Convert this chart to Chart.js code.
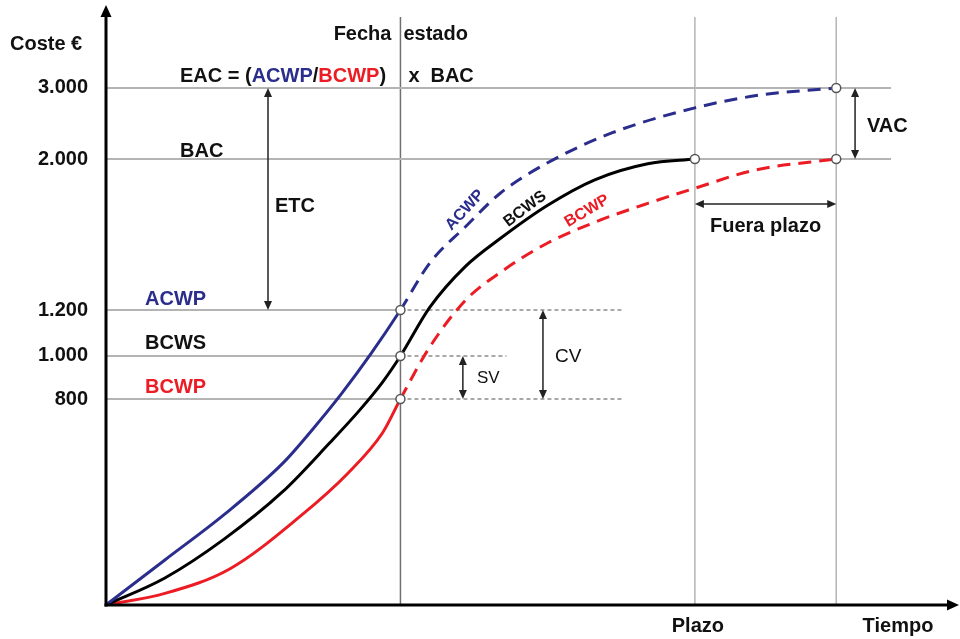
<!DOCTYPE html>
<html lang="es">
<head>
<meta charset="utf-8">
<title>Valor ganado: ACWP, BCWS, BCWP</title>
<script src="https://cdn.jsdelivr.net/npm/chart.js@4.4.1/dist/chart.umd.min.js"></script>
<style>
  html, body { margin: 0; padding: 0; background: #fff; }
  canvas { display: block; }
</style>
</head>
<body>
<canvas id="evm" width="960" height="639"></canvas>
<script>
// Calendar milestones (months)
const statusDate = 5;      // Fecha estado
const deadline = 10;       // Plazo
const finishDate = 12.4;   // actual finish, out of schedule

// Cost levels (€)
const EAC = 3000;
const BAC = 2000;
const acwpNow = 1200;
const bcwsNow = 1000;
const bcwpNow = 800;
const costTicks = [800, 1000, 1200, 2000, 3000];

// ACWP – actual cost of work performed
const acwpTime = [0, 1.0, 2.0, 3.0, 3.5, 4.0, 4.5, 5.0, 5.5, 6.1, 6.7, 7.5, 8.6, 10.0, 11.1, 12.4];
const acwpCost = [0, 175, 350, 550, 680, 825, 1010, 1200, 1450, 1640, 1820, 1980, 2370, 2720, 2900, 3000];

// BCWS – budgeted cost of work scheduled
const bcwsTime = [0, 1.0, 2.0, 3.0, 3.8, 4.3, 4.7, 5.0, 5.5, 6.1, 6.7, 7.5, 8.3, 9.2, 10.0];
const bcwsCost = [0, 105, 255, 440, 630, 755, 880, 1000, 1215, 1430, 1580, 1755, 1890, 1975, 2000];

// BCWP – budgeted cost of work performed
const bcwpTime = [0, 1.0, 2.1, 3.3, 4.1, 4.7, 5.0, 5.5, 6.1, 6.7, 7.5, 8.3, 9.2, 10.0, 11.0, 12.4];
const bcwpCost = [0, 45, 140, 345, 510, 670, 800, 1040, 1250, 1400, 1555, 1665, 1765, 1845, 1940, 2000];

const BLUE = '#2a2d8c';
const RED = '#ec1c24';
const GRID = '#b4b4b4';
const FONT = "'Liberation Sans', Arial, sans-serif";

// Stretched cost axis: value -> fraction of the axis height
const axisStops = [[0, 0], [800, 0.3503], [1000, 0.4235], [1200, 0.5017],
                   [2000, 0.7585], [3000, 0.8793], [4000, 1]];

class StretchedScale extends Chart.LinearScale {
  toDecimal(v) {
    const s = axisStops;
    for (let i = 1; i < s.length; i++) {
      if (v <= s[i][0] || i === s.length - 1) {
        const [v0, d0] = s[i - 1], [v1, d1] = s[i];
        return d0 + (v - v0) / (v1 - v0) * (d1 - d0);
      }
    }
    return 0;
  }
  getPixelForValue(v) {
    return v === null || v === undefined ? NaN : this.getPixelForDecimal(this.toDecimal(v));
  }
  getValueForPixel(p) {
    const d = this.getDecimalForPixel(p), s = axisStops;
    for (let i = 1; i < s.length; i++) {
      if (d <= s[i][1] || i === s.length - 1) {
        const [v0, d0] = s[i - 1], [v1, d1] = s[i];
        return v0 + (d - d0) / (d1 - d0) * (v1 - v0);
      }
    }
    return 0;
  }
}
StretchedScale.id = 'stretched';
StretchedScale.defaults = Chart.LinearScale.defaults;
Chart.register(StretchedScale);

const pts = (ts, vs) => ts.map((t, i) => ({ x: t, y: vs[i] }));
const seg = (x0, x1, v0, v1) => [{ x: x0, y: v0 }, { x: x1, y: v1 }];
const dashedAfterStatus = { borderDash: c => c.p0.parsed.x >= statusDate - 1e-9 ? [13, 8] : undefined };

const refLine = (data, color, width, dash) => ({
  data, borderColor: color, borderWidth: width, borderDash: dash || [],
  pointRadius: 0, tension: 0, order: 10
});

const fmt = v => v >= 1000 ? Math.floor(v / 1000) + '.' + String(v % 1000).padStart(3, '0') : String(v);

const datasets = [
  { label: 'marks', data: [
      { x: statusDate, y: acwpNow }, { x: statusDate, y: bcwsNow }, { x: statusDate, y: bcwpNow },
      { x: deadline, y: BAC }, { x: finishDate, y: EAC }, { x: finishDate, y: BAC }],
    showLine: false, pointRadius: 4.5, pointBackgroundColor: '#fff',
    pointBorderColor: '#555', pointBorderWidth: 1.5, order: -1 },
  { label: 'ACWP', data: pts(acwpTime, acwpCost), borderColor: BLUE, borderWidth: 3,
    cubicInterpolationMode: 'monotone', segment: dashedAfterStatus, order: 1 },
  { label: 'BCWS', data: pts(bcwsTime, bcwsCost), borderColor: '#000', borderWidth: 3,
    cubicInterpolationMode: 'monotone', order: 1 },
  { label: 'BCWP', data: pts(bcwpTime, bcwpCost), borderColor: RED, borderWidth: 3,
    cubicInterpolationMode: 'monotone', segment: dashedAfterStatus, order: 1 },
  // reference lines
  refLine(seg(0, 13.33, EAC, EAC), GRID, 2),
  refLine(seg(0, 13.33, BAC, BAC), GRID, 2),
  refLine(seg(0, statusDate, acwpNow, acwpNow), GRID, 2),
  refLine(seg(0, statusDate, bcwsNow, bcwsNow), GRID, 2),
  refLine(seg(0, statusDate, bcwpNow, bcwpNow), GRID, 2),
  refLine(seg(statusDate, 8.8, acwpNow, acwpNow), '#8c8c8c', 1.5, [4, 3]),
  refLine(seg(statusDate, 6.8, bcwsNow, bcwsNow), '#8c8c8c', 1.5, [4, 3]),
  refLine(seg(statusDate, 8.8, bcwpNow, bcwpNow), '#8c8c8c', 1.5, [4, 3]),
  refLine(seg(statusDate, statusDate, 0, 4000), '#707070', 1.5),
  refLine(seg(deadline, deadline, 0, 4000), GRID, 1.5),
  refLine(seg(finishDate, finishDate, 0, 4000), GRID, 1.5)
];

function head(ctx, x, y, dx, dy, len, half) {
  const bx = x - dx * len, by = y - dy * len;
  ctx.beginPath();
  ctx.moveTo(x, y);
  ctx.lineTo(bx - dy * half, by + dx * half);
  ctx.lineTo(bx + dy * half, by - dx * half);
  ctx.closePath();
  ctx.fill();
}

function dimArrow(ctx, x1, y1, x2, y2) {
  const L = Math.hypot(x2 - x1, y2 - y1), dx = (x2 - x1) / L, dy = (y2 - y1) / L;
  ctx.beginPath();
  ctx.moveTo(x1 + dx * 6, y1 + dy * 6);
  ctx.lineTo(x2 - dx * 6, y2 - dy * 6);
  ctx.stroke();
  head(ctx, x2, y2, dx, dy, 9, 4);
  head(ctx, x1, y1, -dx, -dy, 9, 4);
}

function text(ctx, s, x, y, size, color, align, weight, angle) {
  ctx.save();
  ctx.font = (weight || 'bold') + ' ' + size + 'px ' + FONT;
  ctx.fillStyle = color;
  ctx.textAlign = align || 'left';
  ctx.textBaseline = angle !== undefined ? 'middle' : 'alphabetic';
  ctx.translate(x, y);
  if (angle !== undefined) ctx.rotate(angle * Math.PI / 180);
  ctx.fillText(s, 0, 0);
  ctx.restore();
}

const annotate = {
  id: 'annotate',
  afterDatasetsDraw(chart) {
    const { ctx, chartArea: a, scales: { x, y } } = chart;
    const X = t => x.getPixelForValue(t), Y = v => y.getPixelForValue(v);
    ctx.save();

    // axes with arrowheads
    ctx.strokeStyle = '#000';
    ctx.fillStyle = '#000';
    ctx.lineWidth = 3;
    ctx.beginPath();
    ctx.moveTo(a.left, a.bottom + 1.5);
    ctx.lineTo(a.left, 14);
    ctx.stroke();
    head(ctx, a.left, 5, 0, -1, 12, 5.5);
    ctx.beginPath();
    ctx.moveTo(a.left - 1.5, a.bottom);
    ctx.lineTo(950, a.bottom);
    ctx.stroke();
    head(ctx, 959, a.bottom, 1, 0, 12, 5.5);

    // dimension arrows
    ctx.strokeStyle = '#222';
    ctx.fillStyle = '#222';
    ctx.lineWidth = 1.5;
    dimArrow(ctx, a.left + 162, Y(EAC), a.left + 162, Y(acwpNow));       // ETC
    dimArrow(ctx, X(6.06), Y(bcwsNow), X(6.06), Y(bcwpNow));              // SV
    dimArrow(ctx, X(7.42), Y(acwpNow), X(7.42), Y(bcwpNow));              // CV
    dimArrow(ctx, X(12.72), Y(EAC), X(12.72), Y(BAC));                    // VAC
    dimArrow(ctx, X(deadline), Y(BAC) + 45, X(finishDate), Y(BAC) + 45);  // Fuera plazo
    ctx.restore();

    // labels
    text(ctx, 'Coste €', 10, 50, 20, '#111');
    text(ctx, 'Fecha', X(statusDate) - 9, 40, 20, '#111', 'right');
    text(ctx, 'estado', X(statusDate) + 3, 40, 20, '#111', 'left');

    // EAC = (ACWP/BCWP) x BAC
    ctx.save();
    ctx.font = 'bold 20px ' + FONT;
    let cx = 180;
    [['EAC = (', '#111'], ['ACWP', BLUE], ['/', '#111'], ['BCWP', RED], [')', '#111']].forEach(([s, c]) => {
      ctx.fillStyle = c;
      ctx.fillText(s, cx, 82);
      cx += ctx.measureText(s).width;
    });
    ctx.restore();
    text(ctx, 'x', X(statusDate) + 8, 82, 20, '#111');
    text(ctx, 'BAC', X(statusDate) + 30, 82, 20, '#111');

    text(ctx, 'BAC', 180, 157, 20, '#111');
    text(ctx, 'ETC', 275, 212, 20, '#111');
    text(ctx, 'ACWP', 145, 305, 20, BLUE);
    text(ctx, 'BCWS', 145, 349, 20, '#111');
    text(ctx, 'BCWP', 145, 393, 20, RED);
    text(ctx, 'SV', 477, 383, 17, '#111', 'left', 'normal');
    text(ctx, 'CV', 555, 362, 19, '#111', 'left', 'normal');
    text(ctx, 'VAC', 867, 132, 20, '#111');
    text(ctx, 'Fuera plazo', (X(deadline) + X(finishDate)) / 2, 232, 20, '#111', 'center');
    text(ctx, 'Plazo', X(deadline) + 3, 632, 20, '#111', 'center');
    text(ctx, 'Tiempo', 898, 632, 20, '#111', 'center');

    // curve names along the lines
    text(ctx, 'ACWP', 465, 210, 16, BLUE, 'center', 'bold', -47);
    text(ctx, 'BCWS', 525, 209, 16, '#111', 'center', 'bold', -37);
    text(ctx, 'BCWP', 587, 211, 16, RED, 'center', 'bold', -31);
  }
};

new Chart(document.getElementById('evm'), {
  type: 'line',
  data: { datasets },
  options: {
    responsive: false,
    animation: false,
    devicePixelRatio: 1,
    layout: { padding: { top: 17, bottom: 34, left: 0, right: 1.5 } },
    elements: { point: { radius: 0 }, line: { fill: false } },
    plugins: { legend: { display: false }, tooltip: { enabled: false } },
    scales: {
      x: { type: 'linear', min: 0, max: 14.4, display: false },
      y: {
        type: 'stretched', min: 0, max: 4000,
        grid: { display: false, drawTicks: false },
        border: { display: false },
        afterBuildTicks: s => { s.ticks = costTicks.map(v => ({ value: v })); },
        afterFit: s => { s.width = 106; s.paddingTop = 0; s.paddingBottom = 0; },
        ticks: {
          padding: 18, color: '#111',
          font: { family: FONT, size: 20, weight: 'bold' },
          callback: v => fmt(v)
        }
      }
    }
  },
  plugins: [annotate]
});
</script>
</body>
</html>
